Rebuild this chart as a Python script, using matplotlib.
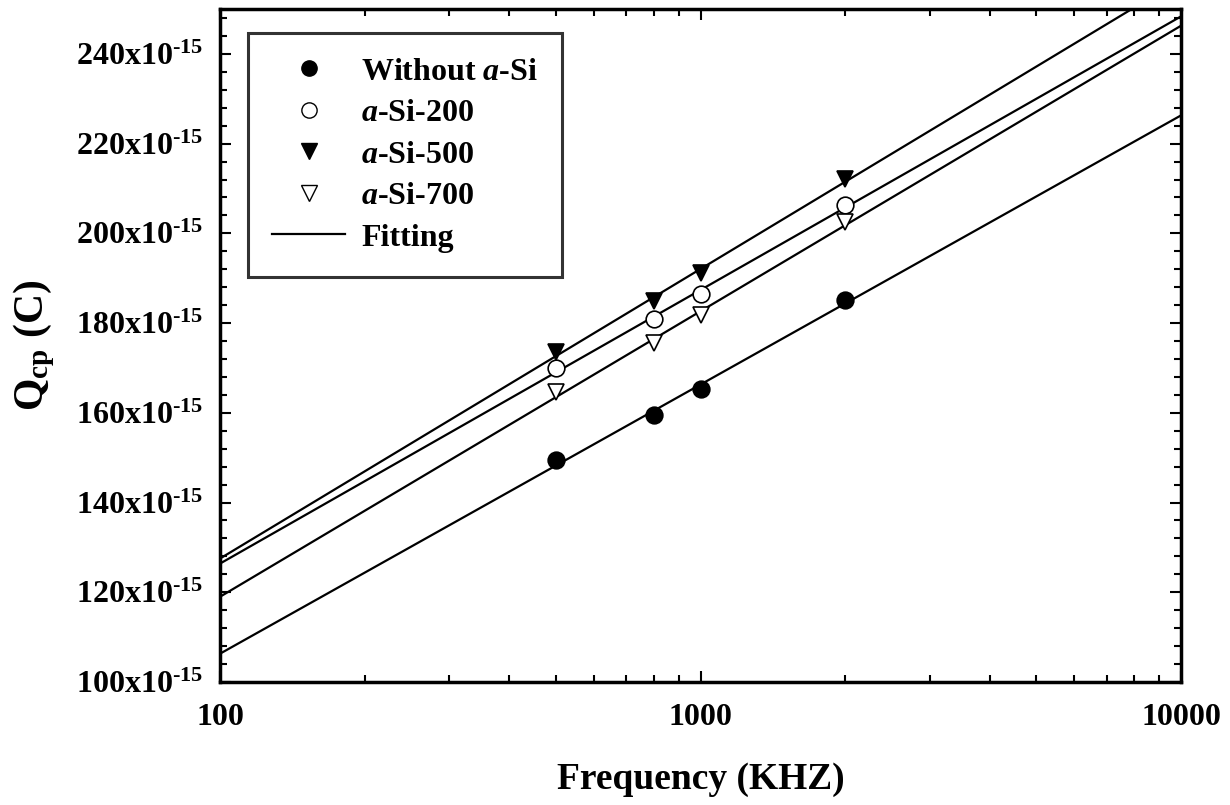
import numpy as np
import matplotlib
matplotlib.use("Agg")
import matplotlib.pyplot as plt
from matplotlib.lines import Line2D
from matplotlib.ticker import FixedLocator, MultipleLocator, FuncFormatter

# values, Qcp in units of 1e-15 C
freq_khz = [500, 800, 1000, 2000]
q_without = [149.4, 159.5, 165.3, 185.2]
q_asi200 = [169.9, 180.8, 186.5, 206.4]
q_asi500 = [173.6, 185.0, 191.2, 212.2]
q_asi700 = [164.6, 175.5, 181.7, 202.6]

labels = ["Without $\\mathit{a}$-Si", "$\\mathit{a}$-Si-200",
          "$\\mathit{a}$-Si-500", "$\\mathit{a}$-Si-700"]
x_ticks = [100, 1000, 10000]
y_ticks = [100, 120, 140, 160, 180, 200, 220, 240]

plt.rcParams["font.family"] = ["Liberation Serif", "DejaVu Serif"]
plt.rcParams["font.weight"] = "bold"
plt.rcParams["mathtext.fontset"] = "custom"
plt.rcParams["mathtext.rm"] = "Liberation Serif:bold"
plt.rcParams["mathtext.bf"] = "Liberation Serif:bold"
plt.rcParams["mathtext.it"] = "Liberation Serif:bold:italic"
plt.rcParams["mathtext.default"] = "bf"

fig = plt.figure(figsize=(12.3, 8.05), dpi=100)
ax = fig.add_axes([0.1789, 0.1528, 0.7813, 0.836])

styles = [
    dict(marker="o", mfc="black", mec="black", ms=12),
    dict(marker="o", mfc="white", mec="black", ms=12),
    dict(marker="v", mfc="black", mec="black", ms=11),
    dict(marker="v", mfc="white", mec="black", ms=11),
]
series = [q_without, q_asi200, q_asi500, q_asi700]

# straight-line fit of Qcp against log(f), drawn across the whole axis
x_fit = np.array([100, 10000])
for q in series:
    k, b = np.polyfit(np.log10(freq_khz), q, 1)
    ax.plot(x_fit, k * np.log10(x_fit) + b, color="black", lw=1.6, zorder=2)

for q, st in zip(series, styles):
    ax.plot(freq_khz, q, ls="none", mew=1.2, zorder=3, **st)

ax.set_xscale("log")
ax.set_xlim(100, 10000)
ax.set_ylim(100, 250)
ax.xaxis.set_major_locator(FixedLocator(x_ticks))
ax.xaxis.set_major_formatter(FuncFormatter(lambda v, p: f"{v:.0f}"))
ax.yaxis.set_major_locator(FixedLocator(y_ticks))
ax.yaxis.set_minor_locator(MultipleLocator(4))
ax.yaxis.set_major_formatter(
    FuncFormatter(lambda v, p: f"{v:.0f}x10$^{{\\text{{-15}}}}$"))

ax.tick_params(which="both", direction="in", top=True, right=True, width=1.5)
ax.tick_params(which="major", length=8, labelsize=23, pad=12)
ax.tick_params(which="minor", length=5)
ax.tick_params(axis="x", which="major", pad=15)
for s in ax.spines.values():
    s.set_linewidth(2.5)

ax.set_xlabel("Frequency (KHZ)", fontsize=27, fontweight="bold", labelpad=22)
ax.set_ylabel("Q$_{\\mathbf{cp}}$ (C)", fontsize=30, fontweight="bold", labelpad=14)

handles = [Line2D([], [], ls="none", **dict(st, ms=11)) for st in styles]
handles.append(Line2D([], [], color="black", lw=1.6))
leg = ax.legend(handles, labels + ["Fitting"], loc="upper left",
                bbox_to_anchor=(0.029, 0.964), fontsize=23, frameon=True,
                fancybox=False, edgecolor="black", handlelength=2.3,
                handletextpad=0.5, labelspacing=0.38, borderpad=0.75,
                borderaxespad=0)
leg.get_frame().set_linewidth(2.2)

fig.savefig("out.png", dpi=100)
